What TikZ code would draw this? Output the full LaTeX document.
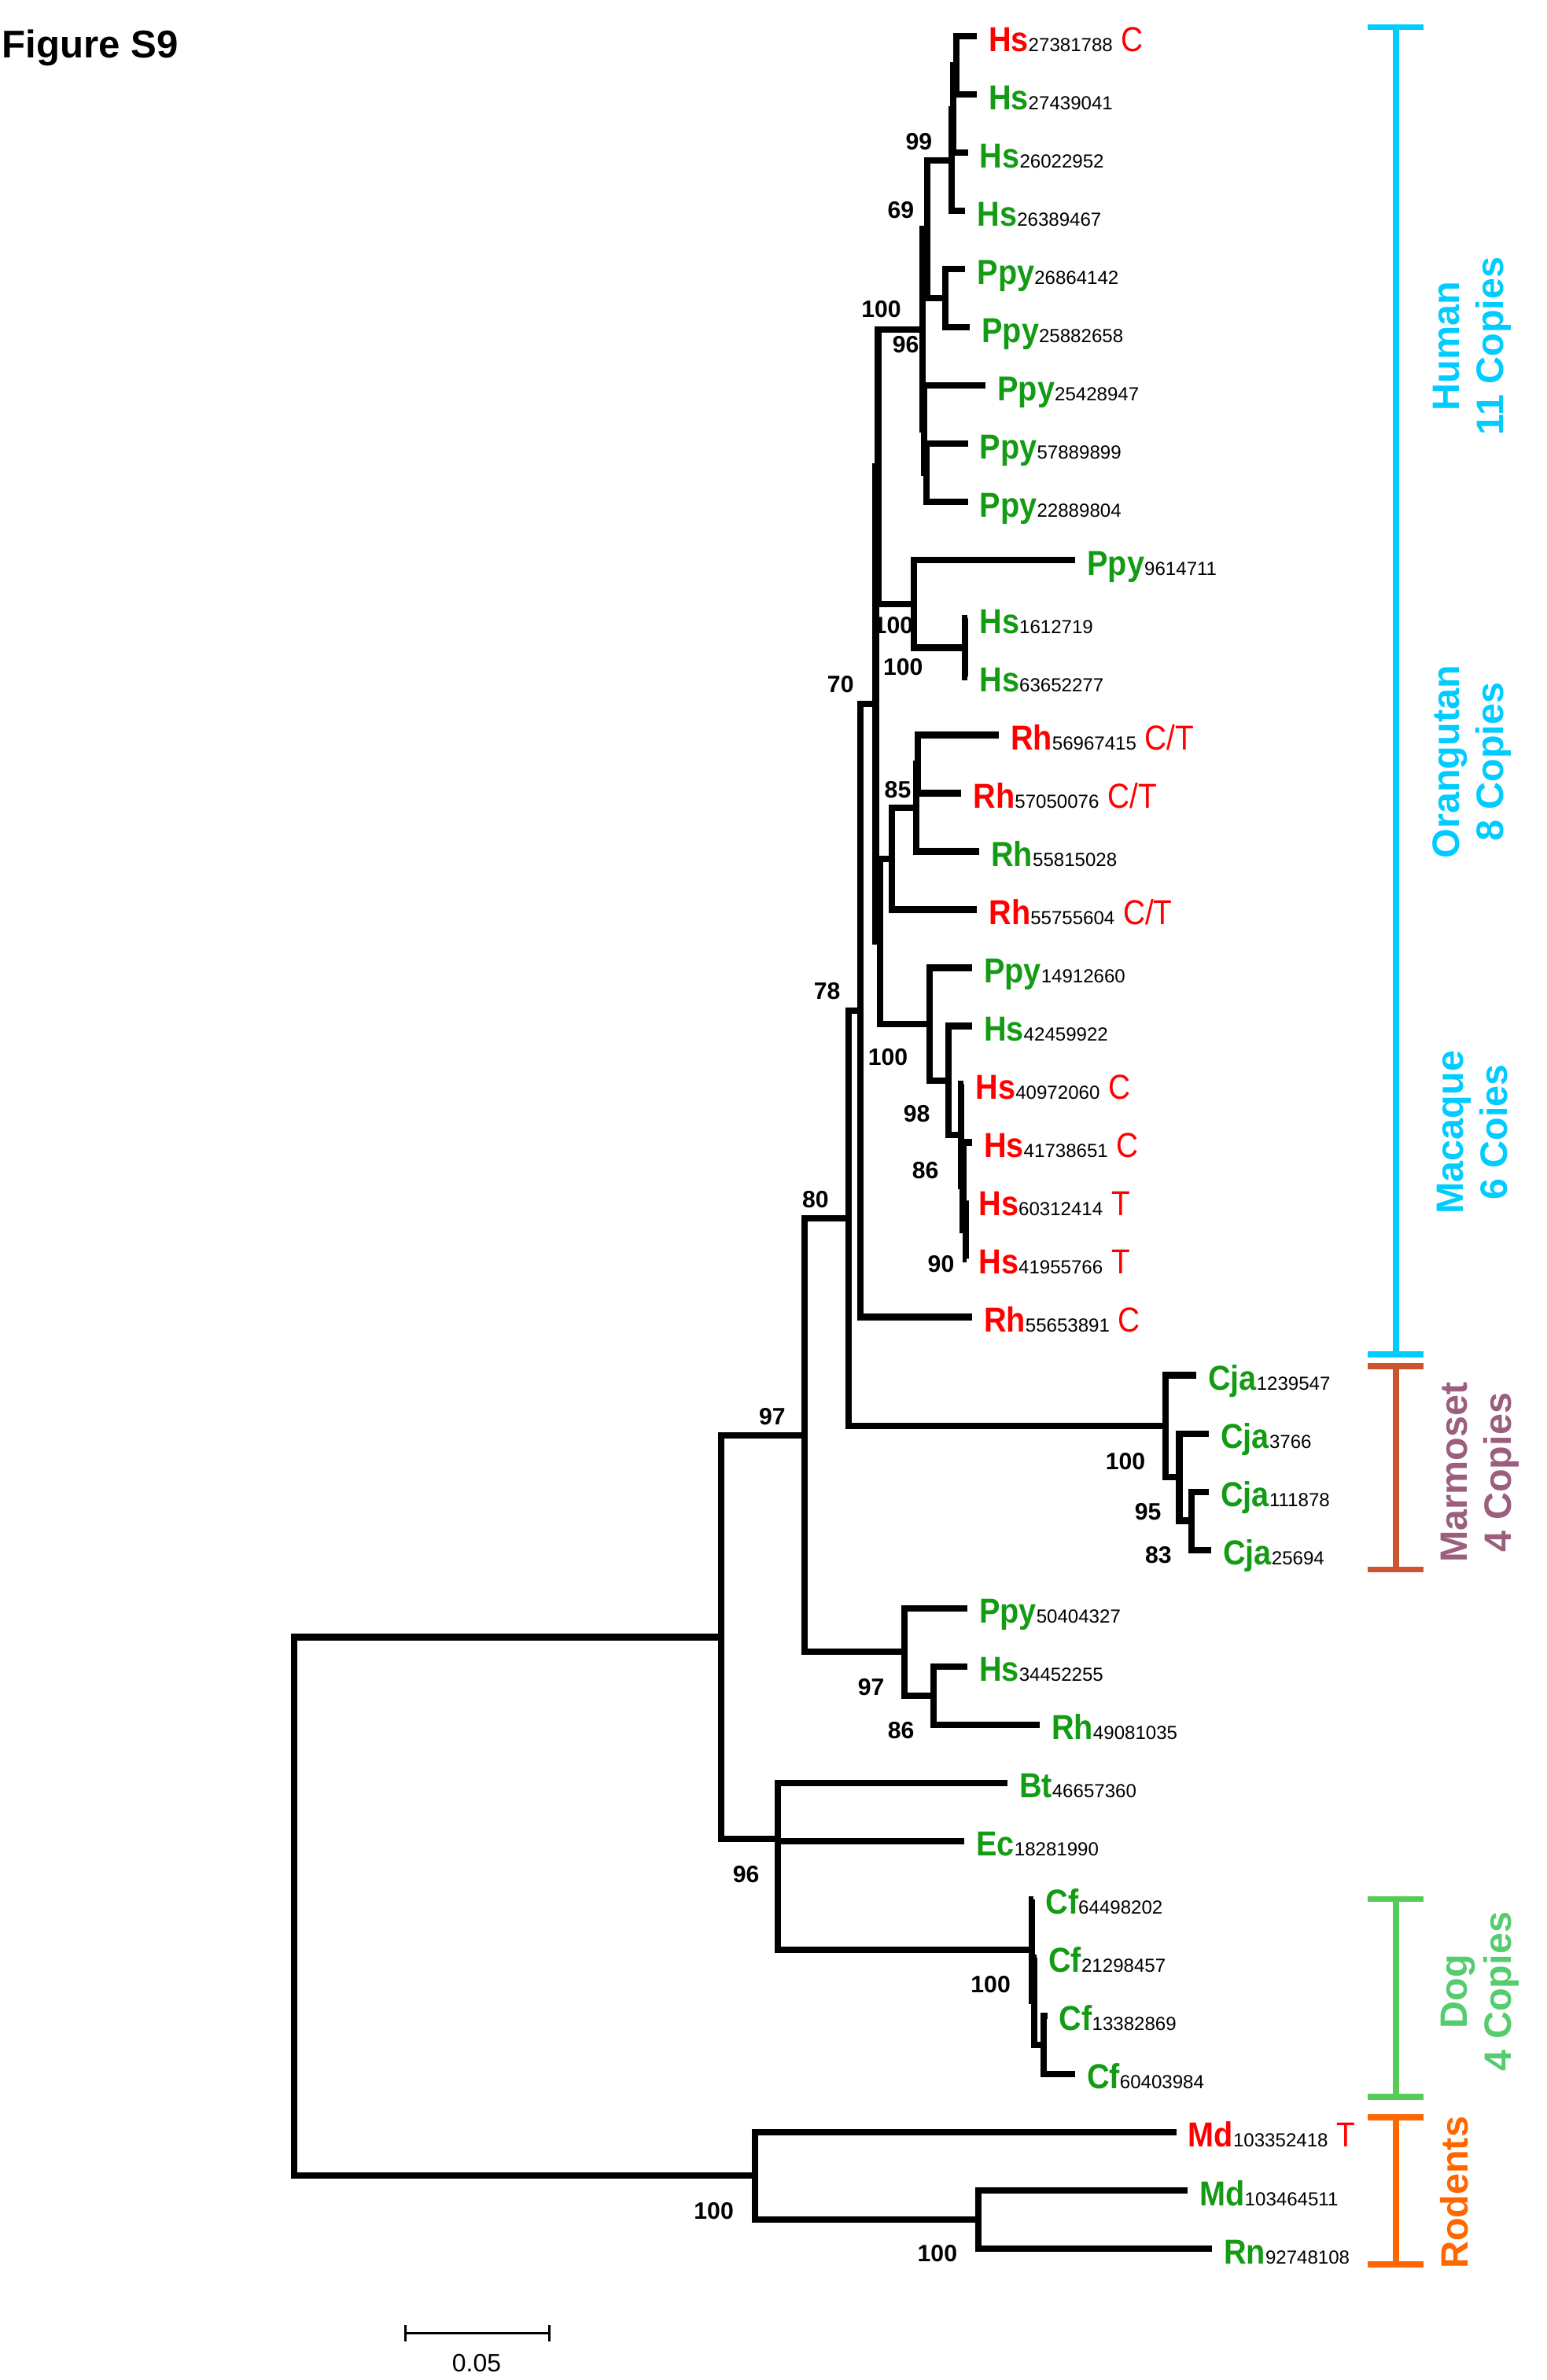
\documentclass[tikz,border=0pt]{standalone}
\usepackage{fontspec}
\setmainfont{Liberation Sans}
\newfontfamily\spfont[FakeStretch=0.9]{Liberation Sans}
\newfontfamily\tagfont[FakeStretch=0.88]{Liberation Sans}
\usetikzlibrary{calc}
\definecolor{leafgreen}{RGB}{20,155,20}
\definecolor{snpred}{RGB}{255,0,0}
\definecolor{primcyan}{RGB}{0,204,255}
\definecolor{marmobar}{RGB}{205,85,45}
\definecolor{marmotext}{RGB}{155,95,125}
\definecolor{dogbar}{RGB}{85,204,85}
\definecolor{dogtext}{RGB}{85,204,110}
\definecolor{rodorange}{RGB}{255,102,0}
\tikzset{
	branch/.style={line width=2.4pt, line join=miter},
	leaflabel/.style={anchor=base west, inner sep=0pt, xshift=0.15cm, yshift=-0.2cm,
		font=\fontsize{13}{14}\selectfont},
	boot/.style={inner sep=0pt, font=\fontsize{8.9}{10}\selectfont\bfseries},
	groupbar/.style={line width=2.2pt},
	grouplabel/.style={rotate=90, align=center, inner sep=0pt,
		font=\fontsize{14.3}{16.5}\selectfont\bfseries},
}
\newcommand{\numfont}{\fontsize{7.1}{8}\selectfont\mdseries}
\newcommand{\drawGroup}[3]{
	\draw [groupbar, #1] (901,#2) -- (938,#2);
	\draw [groupbar, #1] (919.7,#2) -- (919.7,#3);
	\draw [groupbar, #1] (901,#3) -- (938,#3);
}

\begin{document}
\begin{tikzpicture}[x=0.02cm, y=-0.02cm]

	\useasboundingbox (0,0) rectangle (1019,1568);

	\node[anchor=base west, inner sep=0pt, font=\fontsize{14.5}{16}\selectfont\bfseries]
		(title) at (1,38) {Figure S9};

	% leaves
	\foreach \sp/\num/\tag/\col/\xe [count=\i] in {
		Hs/27381788/C/snpred/643.5,
		Hs/27439041//leafgreen/643.5,
		Hs/26022952//leafgreen/637.7,
		Hs/26389467//leafgreen/636,
		Ppy/26864142//leafgreen/636,
		Ppy/25882658//leafgreen/639,
		Ppy/25428947//leafgreen/649.4,
		Ppy/57889899//leafgreen/637.7,
		Ppy/22889804//leafgreen/637.7,
		Ppy/9614711//leafgreen/708.5,
		Hs/1612719//leafgreen/637.5,
		Hs/63652277//leafgreen/637.5,
		Rh/56967415/{C/T}/snpred/658,
		Rh/57050076/{C/T}/snpred/633.4,
		Rh/55815028//leafgreen/645.2,
		Rh/55755604/{C/T}/snpred/643.7,
		Ppy/14912660//leafgreen/640.4,
		Hs/42459922//leafgreen/640.4,
		Hs/40972060/C/snpred/635,
		Hs/41738651/C/snpred/640.4,
		Hs/60312414/T/snpred/637,
		Hs/41955766/T/snpred/637,
		Rh/55653891/C/snpred/640.4,
		Cja/1239547//leafgreen/788.1,
		Cja/3766//leafgreen/796.5,
		Cja/111878//leafgreen/796.5,
		Cja/25694//leafgreen/798,
		Ppy/50404327//leafgreen/637.3,
		Hs/34452255//leafgreen/637.3,
		Rh/49081035//leafgreen/685,
		Bt/46657360//leafgreen/663.7,
		Ec/18281990//leafgreen/635.4,
		Cf/64498202//leafgreen/681,
		Cf/21298457//leafgreen/683,
		Cf/13382869//leafgreen/690,
		Cf/60403984//leafgreen/708.3,
		Md/103352418/T/snpred/775,
		Md/103464511//leafgreen/782.6,
		Rn/92748108//leafgreen/798.5}{
		\pgfmathsetmacro{\y}{24+38.35*(\i-1)}
		\coordinate (l\i) at (\xe,\y);
		\node[leaflabel] (t\i) at (l\i)
			{\textcolor{\col}{\spfont\bfseries\sp}{\numfont\num}\textcolor{\col}{\tagfont\ \tag}};
	}

	% internal nodes
	\foreach \n/\x/\y in {
		n12/630/43.2, n123/628/71.95, n99/627/105.5, n56/623/196.6,
		n69/611/151.05, n89/610.5/311.6, n789/609/282.85, n96/608/216.95,
		n1112/636/426.7, n10/602/397.9, ntop/578.5/307.4,
		n1314/604.5/503.4, n85/603.5/532.1, nrh/587.8/565.7,
		n90/636.5/810.2, nc/634.5/781.4, n86/633/747.9, n98/625/711.9,
		n100b/612.5/674.75, nx/580/620.2, n70/577/463.8, n78/567/665.75,
		ncja3/785.2/1001.9, n95/777/973.15, ncja/768/939.6, n80/559/802.7,
		n86b/615/1117, n97b/595.7/1088.2, n97/530.3/945.45,
		ncf3/687.5/1347.1, ncf2/681.5/1318.3, ncf/680/1284.75,
		nec/512.5/1248.8, n96c/512.5/1211.65, nA/475/1078.55,
		nmr/644.8/1462.1, nrod/497.5/1433.35, root/193.6/1255.95}{
		\coordinate (\n) at (\x,\y);
	}

	\foreach \p/\c in {
		n12/l1, n12/l2, n123/n12, n123/l3, n99/n123, n99/l4,
		n56/l5, n56/l6, n69/n99, n69/n56, n89/l8, n89/l9,
		n789/l7, n789/n89, n96/n69, n96/n789,
		n1112/l11, n1112/l12, n10/l10, n10/n1112, ntop/n96, ntop/n10,
		n1314/l13, n1314/l14, n85/n1314, n85/l15, nrh/n85, nrh/l16,
		n90/l21, n90/l22, nc/l20, nc/n90, n86/l19, n86/nc,
		n98/l18, n98/n86, n100b/l17, n100b/n98, nx/nrh, nx/n100b,
		n70/ntop, n70/nx, n78/n70, n78/l23,
		ncja3/l26, ncja3/l27, n95/l25, n95/ncja3, ncja/l24, ncja/n95,
		n80/n78, n80/ncja, n86b/l29, n86b/l30, n97b/l28, n97b/n86b,
		n97/n80, n97/n97b,
		ncf3/l35, ncf3/l36, ncf2/l34, ncf2/ncf3, ncf/l33, ncf/ncf2,
		nec/l32, nec/ncf, n96c/l31, n96c/nec, nA/n97, nA/n96c,
		nmr/l38, nmr/l39, nrod/l37, nrod/nmr, root/nA, root/nrod}{
		\draw[branch] (\p) |- (\c);
	}

	% bootstrap values
	\foreach \bx/\by/\bv [count=\k] in {
		605.4/93.3/99, 593.5/138.2/69, 580.6/203.8/100, 596.8/227.1/96,
		588.6/411.9/100, 595/439.6/100, 553.8/450.8/70, 591.5/520.3/85,
		544.9/653/78, 585/696.7/100, 604/734/98, 609.7/771/86,
		620/832.5/90, 537.3/790.2/80, 508.8/933.5/97, 741.5/962.6/100,
		756.3/996.2/95, 763.2/1024.4/83, 574/1111.7/97, 593.6/1139.8/86,
		491.6/1234.7/96, 652.7/1307.6/100, 470.3/1456.7/100, 617.6/1484.6/100}{
		\node[boot] (b\k) at (\bx,\by) {\bv};
	}

	% groups
	\drawGroup{primcyan}{17.8}{892.3}
	\drawGroup{marmobar}{900}{1034}
	\drawGroup{dogbar}{1251.2}{1381.4}
	\drawGroup{rodorange}{1395}{1491.7}

	\node[grouplabel, primcyan] (human) at (970,228) {Human\\11 Copies};
	\node[grouplabel, primcyan] (orang) at (970,502) {Orangutan\\8 Copies};
	\node[grouplabel, primcyan] (macaq) at (970,746) {Macaque\\6 Coies};
	\node[grouplabel, marmotext] (marmo) at (975,970) {Marmoset\\4 Copies};
	\node[grouplabel, dogtext] (dog) at (975,1312) {Dog\\4 Copies};
	\node[grouplabel, rodorange] (rodent) at (958.4,1444.6) {Rodents};

	% scale bar
	\coordinate (sb1) at (267,1537.3);
	\coordinate (sb2) at (362,1537.3);
	\draw[line width=0.8pt] (sb1) -- (sb2);
	\draw[line width=0.8pt] ($(sb1)+(0,-5.5)$) -- ($(sb1)+(0,5.5)$);
	\draw[line width=0.8pt] ($(sb2)+(0,-5.5)$) -- ($(sb2)+(0,5.5)$);
	\node[inner sep=0pt, font=\fontsize{9.4}{10}\selectfont] (sbl) at (314,1556.8) {0.05};

\end{tikzpicture}
\end{document}
